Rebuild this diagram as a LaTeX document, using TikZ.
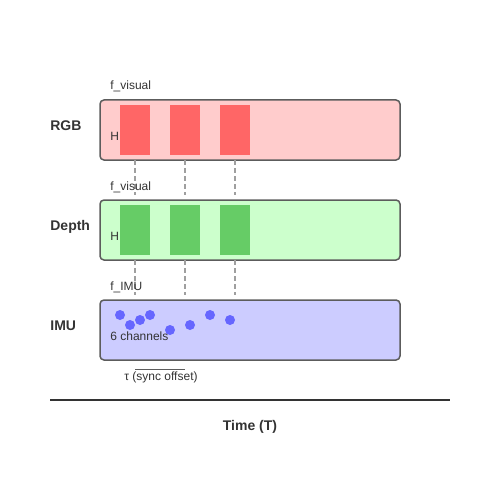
\documentclass[tikz,border=0pt]{standalone}
\usepackage{fontspec}
\setmainfont{Liberation Sans}

\definecolor{txtgray}{HTML}{333333}
\definecolor{rgbfill}{HTML}{FFCCCC}
\definecolor{rgbframe}{HTML}{FF6666}
\definecolor{depthfill}{HTML}{CCFFCC}
\definecolor{depthframe}{HTML}{66CC66}
\definecolor{imufill}{HTML}{CCCCFF}
\definecolor{imudot}{HTML}{6666FF}

\tikzset{every picture/.style={line width=0.75pt}}
\tikzset{
  streambox/.style={draw=txtgray!80, line width=1.5, rounded corners=4},
  framebar/.style={draw=none},
  syncline/.style={draw=gray!75, line width=1.5, dash pattern=on 5 off 3},
  smalltext/.style={font=\fontsize{12}{14}\selectfont, text=txtgray, inner sep=0, anchor=base west},
  rowlabel/.style={font=\fontsize{14}{16}\selectfont\bfseries, text=txtgray, inner sep=0, anchor=base west}
}

\begin{document}
\begin{tikzpicture}[x=1pt,y=1pt,yscale=-1,xscale=1]
\useasboundingbox (0,0) rectangle (500,500);

%Stream boxes
\draw [streambox, fill=rgbfill]   (100,100) rectangle (400,160) ;
\draw [streambox, fill=depthfill] (100,200) rectangle (400,260) ;
\draw [streambox, fill=imufill]   (100,300) rectangle (400,360) ;

%Frames RGB
\foreach \x in {120,170,220}
  \fill [rgbframe] (\x,105) rectangle (\x+30,155) ;
%Frames Depth
\foreach \x in {120,170,220}
  \fill [depthframe] (\x,205) rectangle (\x+30,255) ;

%IMU samples
\foreach \x/\y in {120/315,130/325,140/320,150/315,170/330,190/325,210/315,230/320}
  \fill [imudot] (\x,\y) circle (5) ;

%Sync guides
\foreach \x [count=\i] in {135,185,235} {
  \coordinate (rgbB\i) at (\x,160);
  \coordinate (depT\i) at (\x,195);
  \coordinate (depB\i) at (\x,260);
  \coordinate (imuT\i) at (\x,295);
  \draw [syncline] (rgbB\i) -- (depT\i) ;
  \draw [syncline] (depB\i) -- (imuT\i) ;
}

%Offset mark
\coordinate (offA) at (135,369);
\coordinate (offB) at (185,369);
\draw [txtgray!80, line width=1] (offA) -- (offB) ;

%Time axis
\coordinate (axisL) at (50,400);
\coordinate (axisR) at (450,400);
\draw [txtgray, line width=2] (axisL) -- (axisR) ;

% Text Node
\node (lblRGB)   [rowlabel] at (50,130) {RGB};
% Text Node
\node (lblDepth) [rowlabel] at (50,230) {Depth};
% Text Node
\node (lblIMU)   [rowlabel] at (50,330) {IMU};
% Text Node
\node (fRGB)   [smalltext] at (110,90) {f\_visual};
% Text Node
\node (fDepth) [smalltext] at (110,190) {f\_visual};
% Text Node
\node (fIMU)   [smalltext] at (110,290) {f\_IMU};
% Text Node
\node (hRGB)   [smalltext] at (110,140) {H};
% Text Node
\node (hDepth) [smalltext] at (110,240) {H};
% Text Node
\node (chIMU)  [smalltext] at (110,340) {6 channels};
% Text Node
\node (tau)    [smalltext] at (124,380) {τ (sync offset)};
% Text Node
\node (timeT)  [rowlabel, anchor=base] at (250,430) {Time (T)};

\end{tikzpicture}
\end{document}
